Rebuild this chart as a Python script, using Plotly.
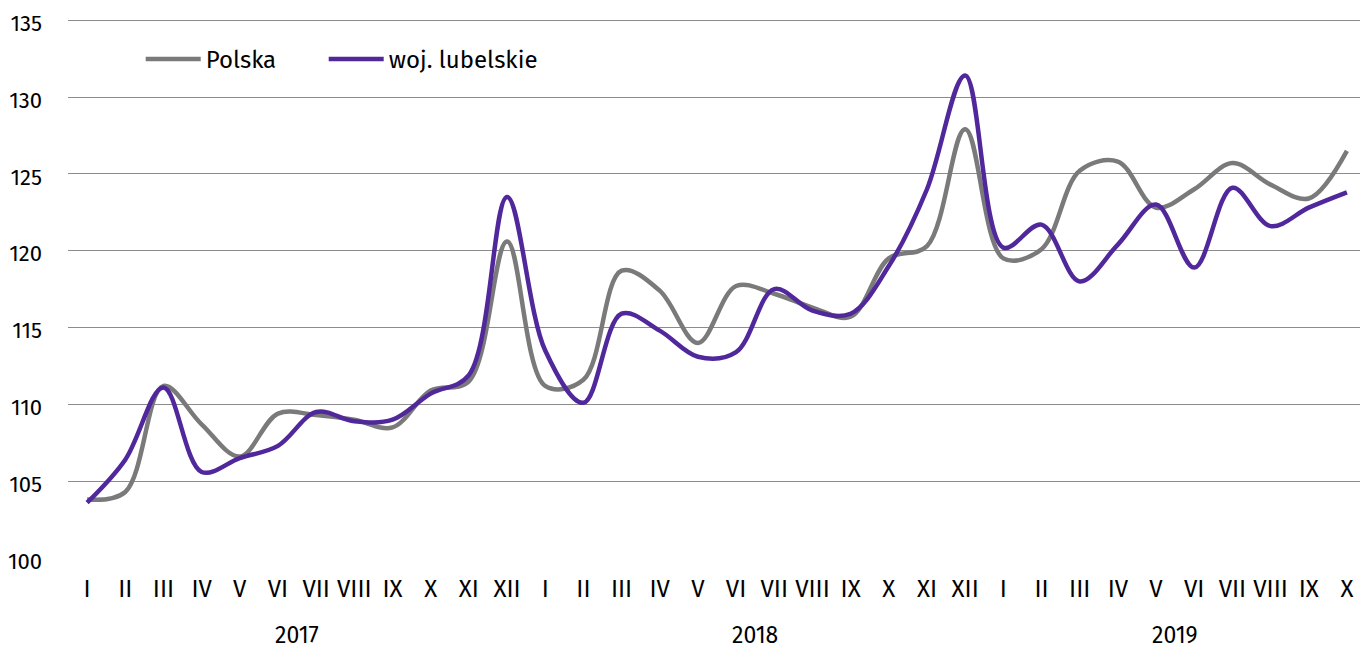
import plotly.graph_objects as go

months = ["I", "II", "III", "IV", "V", "VI", "VII", "VIII", "IX", "X", "XI", "XII"]
years = ["2017", "2018", "2019"]
month_labels = months + months + months[:10]
year_of_point = ["2017"] * 12 + ["2018"] * 12 + ["2019"] * 10

polska = [
    103.8, 104.3, 111.2, 108.7, 106.6, 109.4, 109.3, 109.0, 108.5, 110.9, 111.5, 120.6,
    111.2, 111.6, 118.7, 117.4, 114.0, 117.7, 117.2, 116.3, 115.7, 119.5, 120.3, 127.9,
    119.5, 120.1, 125.2, 125.8, 122.8, 124.0, 125.7, 124.3, 123.4, 126.5,
]
lubelskie = [
    103.6, 106.4, 111.1, 105.6, 106.5, 107.3, 109.5, 108.9, 109.0, 110.7, 111.9, 123.5,
    113.5, 110.1, 115.9, 114.8, 113.1, 113.4, 117.5, 116.1, 115.9, 119.0, 124.0, 131.4,
    120.2, 121.7, 118.0, 120.4, 123.0, 118.9, 124.1, 121.6, 122.8, 123.8,
]
y_ticks = [100, 105, 110, 115, 120, 125, 130, 135]

x = list(range(len(month_labels)))
FONT = "Fira Sans, Noto Sans, Open Sans, sans-serif"

fig = go.Figure()
fig.add_trace(go.Scatter(
    x=x, y=polska, name="Polska", mode="lines", legend="legend",
    line=dict(color="#7a7a7a", width=4.5, shape="spline", smoothing=1.0),
))
fig.add_trace(go.Scatter(
    x=x, y=lubelskie, name="woj. lubelskie", mode="lines", legend="legend2",
    line=dict(color="#50289b", width=4.5, shape="spline", smoothing=1.0),
))

for yr in years:
    idx = [i for i, v in enumerate(year_of_point) if v == yr]
    fig.add_annotation(
        x=(idx[0] + idx[-1]) / 2, y=0, xref="x", yref="paper",
        yshift=-93, text=yr, showarrow=False,
        font=dict(family=FONT, size=23, color="#000000"),
    )

legend_common = dict(
    orientation="h", y=0.925, xanchor="left", yanchor="middle",
    bgcolor="rgba(0,0,0,0)", font=dict(size=24), itemwidth=55,
)

fig.update_layout(
    width=1360, height=640,
    margin=dict(l=60, r=2, t=11, b=90, autoexpand=False),
    paper_bgcolor="white", plot_bgcolor="white",
    font=dict(family=FONT, size=22, color="#000000"),
    showlegend=True,
    legend=dict(x=0.056, **legend_common),
    legend2=dict(x=0.197, **legend_common),
    xaxis=dict(
        range=[-0.5, len(x) - 0.5], tickmode="array", tickvals=x,
        ticktext=month_labels, showgrid=False, zeroline=False,
        showline=False, ticks="", ticklen=0, tickfont=dict(size=24),
        ticklabelstandoff=14, fixedrange=True, automargin=False,
    ),
    yaxis=dict(
        range=[100, 135.08], tickmode="array", tickvals=y_ticks,
        showgrid=True, gridcolor="#8c8c8c", gridwidth=1,
        zeroline=False, showline=False, ticks="", ticklabelstandoff=25,
        ticklabelshift=3,
        tickfont=dict(size=22), fixedrange=True, automargin=False,
        ticklabeloverflow="allow",
    ),
)

fig.write_html("out.html")
